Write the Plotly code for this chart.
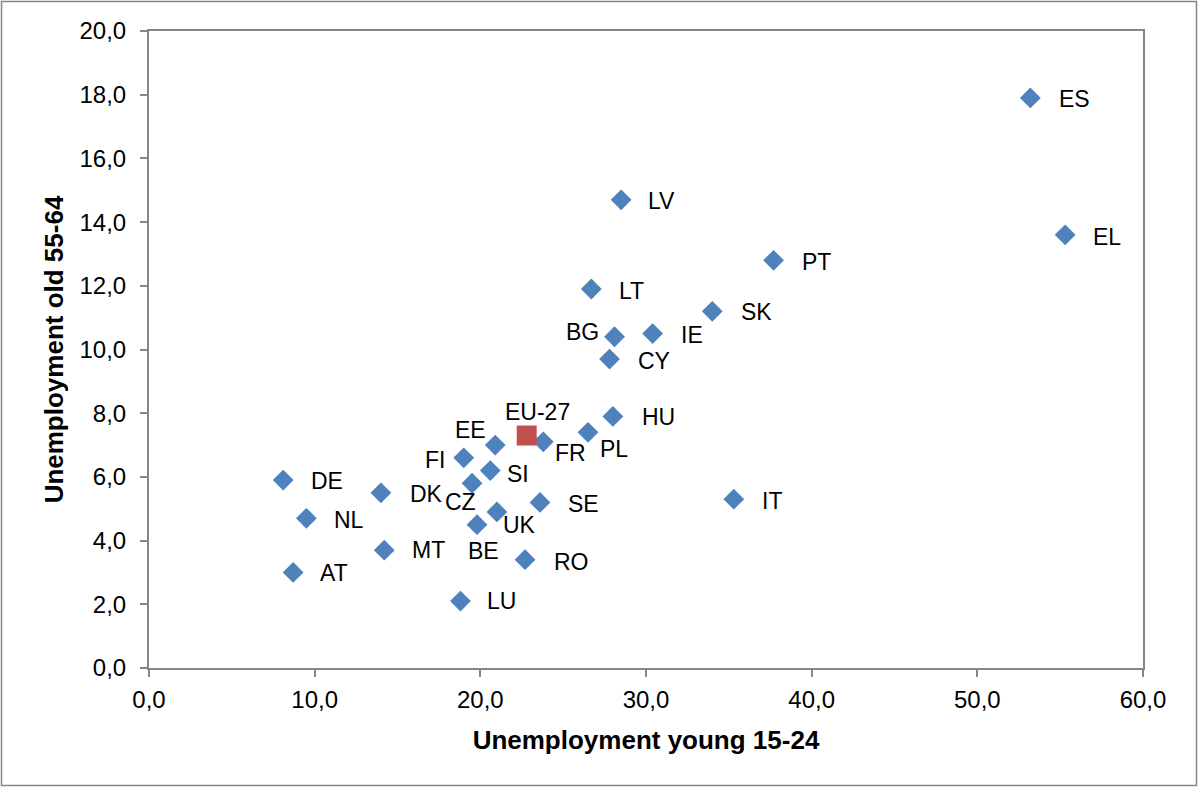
import plotly.graph_objects as go

# ---------------- data ----------------
countries = ["ES", "EL", "LV", "PT", "LT", "SK", "BG", "IE", "CY", "HU", "PL", "FR",
             "EE", "FI", "SI", "CZ", "DE", "DK", "NL", "UK", "SE", "IT", "BE", "MT",
             "AT", "RO", "LU"]
young = [53.2, 55.3, 28.5, 37.7, 26.7, 34.0, 28.1, 30.4, 27.8, 28.0, 26.5, 23.8,
         20.9, 19.0, 20.6, 19.5, 8.1, 14.0, 9.5, 21.0, 23.6, 35.3, 19.8, 14.2,
         8.7, 22.7, 18.8]
old = [17.9, 13.6, 14.7, 12.8, 11.9, 11.2, 10.4, 10.5, 9.7, 7.9, 7.4, 7.1,
       7.0, 6.6, 6.2, 5.8, 5.9, 5.5, 4.7, 4.9, 5.2, 5.3, 4.5, 3.7,
       3.0, 3.4, 2.1]
eu_label = ["EU-27"]
eu_young = [22.8]
eu_old = [7.3]

x_tick_vals = [0, 10, 20, 30, 40, 50, 60]
x_tick_text = ["0,0", "10,0", "20,0", "30,0", "40,0", "50,0", "60,0"]
y_tick_vals = [0, 2, 4, 6, 8, 10, 12, 14, 16, 18, 20]
y_tick_text = ["0,0", "2,0", "4,0", "6,0", "8,0", "10,0", "12,0", "14,0", "16,0", "18,0", "20,0"]

x_title = "Unemployment young 15-24"
y_title = "Unemployment old 55-64"

# ---------------- label placement (pixels: anchor, dx, dy-down) ----------------
label_place = {
    "ES": ("left", 27, 1), "EL": ("left", 26, 2), "LV": ("left", 25, 1),
    "PT": ("left", 26, 2), "LT": ("left", 26, 2), "SK": ("left", 27, 1),
    "BG": ("right", -14, -5), "IE": ("left", 26, 1), "CY": ("left", 26, 2),
    "HU": ("left", 27, 1), "PL": ("left", 10, 17), "FR": ("left", 10, 11),
    "EE": ("right", -7, -15), "FI": ("right", -17, 2), "SI": ("left", 15, 3),
    "CZ": ("center", -12, 19), "DE": ("left", 26, 1), "DK": ("left", 27, 1),
    "NL": ("left", 26, 2), "UK": ("left", 4, 13), "SE": ("left", 26, 2),
    "IT": ("left", 26, 2), "BE": ("center", 6, 26), "MT": ("left", 26, 0),
    "AT": ("left", 25, 1), "RO": ("left", 27, 2), "LU": ("left", 25, 0),
    "EU-27": ("center", 11, -24),
}

FONT = "Liberation Sans, Arial, sans-serif"
BLUE = "#4F81BD"
RED = "#C0504D"
GRAY = "#868686"

W, H = 1198, 787
ML, MR, MT_, MB = 149, 55, 31, 119
PW, PH = W - ML - MR, H - MT_ - MB

fig = go.Figure()
fig.add_trace(go.Scatter(
    x=young, y=old, mode="markers", name="countries",
    marker=dict(symbol="diamond", size=16, color=BLUE, line=dict(width=0)),
    hovertext=countries, showlegend=False,
))
fig.add_trace(go.Scatter(
    x=eu_young, y=eu_old, mode="markers", name="EU-27",
    marker=dict(symbol="square", size=20, color=RED, line=dict(width=0)),
    hovertext=eu_label, showlegend=False,
))

annotations = []
for name, xv, yv in list(zip(countries, young, old)) + list(zip(eu_label, eu_young, eu_old)):
    anchor, dx, dy = label_place[name]
    annotations.append(dict(
        x=xv, y=yv, xref="x", yref="y", text=name, showarrow=False,
        xanchor=anchor, yanchor="middle", xshift=dx, yshift=-dy,
        font=dict(family=FONT, size=23, color="#000000"),
    ))

# outer chart border
fig.add_shape(type="rect", xref="paper", yref="paper",
              x0=(1.5 - ML) / PW, x1=(W - 1.5 - ML) / PW,
              y0=(H - MB - (H - 1.5)) / PH, y1=(H - MB - 1.5) / PH,
              line=dict(color=GRAY, width=1.5), fillcolor="rgba(0,0,0,0)", layer="below")

axis_common = dict(
    showgrid=False, zeroline=False, showline=True, linecolor=GRAY, linewidth=2,
    mirror=True, ticks="outside", ticklen=7, tickwidth=2, tickcolor=GRAY,
    tickfont=dict(family=FONT, size=24, color="#000000"),
)

fig.update_layout(
    width=W, height=H,
    margin=dict(l=ML, r=MR, t=MT_, b=MB),
    paper_bgcolor="white", plot_bgcolor="white",
    annotations=annotations,
    xaxis=dict(range=[0, 60], tickvals=x_tick_vals, ticktext=x_tick_text,
               ticklabelstandoff=2,
               title=dict(text=x_title, standoff=19,
                          font=dict(family=FONT, size=26, color="#000000", weight="bold")),
               **axis_common),
    yaxis=dict(range=[0, 20], tickvals=y_tick_vals, ticktext=y_tick_text,
               ticklabelstandoff=9,
               title=dict(text=y_title, standoff=8,
                          font=dict(family=FONT, size=26, color="#000000", weight="bold")),
               **axis_common),
)

fig.write_html("out.html", config={"displayModeBar": False},
               post_script="document.body.style.margin='0';document.body.style.overflow='hidden';")
